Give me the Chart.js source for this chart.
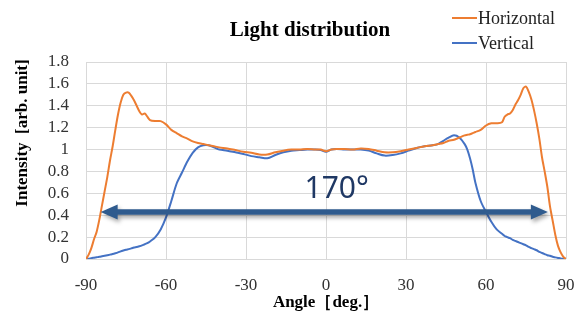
<!DOCTYPE html>
<html>
<head>
<meta charset="utf-8">
<script src="https://cdn.jsdelivr.net/npm/chart.js@4.4.1/dist/chart.umd.min.js"></script>
<style>
  html, body { margin: 0; padding: 0; background: #fff; }
  #wrap { width: 576px; height: 318px; }
</style>
</head>
<body>
<div id="wrap"><canvas id="lightChart"></canvas></div>
<script>
// angles in degrees
const angles = [-90,-89,-88,-87,-86,-85,-84,-83,-82,-81,-80,-79,-78,-77,-76,-75,-74,-73,-72,-71,-70,-69,-68,-67,-66,-64,-62,-60,-58,-56,-54,-52,-50,-48,-46,-44,-42,-40,-37,-34,-31,-28,-25,-22,-19,-16,-13,-10,-7,-4,-2,0,2,4,7,10,13,16,19,22,25,28,31,34,37,40,42,44,46,48,50,52,53,54,55,56,58,60,62,64,66,67,68,69,70,71,72,73,74,75,76,77,78,79,80,81,82,83,84,85,86,87,88,89,90];

const horizontal = [0,0.04,0.1,0.18,0.25,0.36,0.49,0.62,0.75,0.9,1.03,1.18,1.32,1.43,1.5,1.52,1.52,1.49,1.45,1.4,1.35,1.32,1.33,1.3,1.27,1.26,1.26,1.23,1.18,1.15,1.12,1.1,1.075,1.06,1.05,1.04,1.03,1.02,1.01,0.995,0.98,0.97,0.955,0.955,0.975,0.99,1.0,1.0,1.005,1.0,1.0,0.985,1.0,1.005,1.005,1.0,1.01,1.005,0.99,0.975,0.975,0.985,1.0,1.015,1.03,1.04,1.05,1.06,1.08,1.09,1.11,1.13,1.135,1.14,1.15,1.16,1.18,1.22,1.24,1.24,1.25,1.3,1.32,1.33,1.36,1.41,1.45,1.5,1.56,1.575,1.53,1.46,1.36,1.24,1.1,0.93,0.8,0.66,0.48,0.35,0.22,0.12,0.06,0.02,0];

const vertical = [0,0.003,0.008,0.012,0.016,0.02,0.025,0.03,0.035,0.04,0.045,0.052,0.06,0.07,0.078,0.085,0.09,0.097,0.105,0.11,0.117,0.125,0.135,0.145,0.16,0.2,0.27,0.38,0.53,0.69,0.79,0.89,0.97,1.02,1.04,1.04,1.02,1.0,0.99,0.975,0.96,0.94,0.93,0.92,0.95,0.975,0.99,0.995,1.0,1.0,0.995,0.98,1.0,1.005,1.0,1.0,1.0,0.99,0.965,0.945,0.95,0.965,0.99,1.015,1.03,1.04,1.05,1.08,1.11,1.13,1.11,1.05,1.0,0.92,0.82,0.7,0.53,0.43,0.34,0.27,0.23,0.21,0.2,0.19,0.175,0.165,0.155,0.145,0.135,0.125,0.11,0.1,0.09,0.08,0.065,0.055,0.045,0.035,0.03,0.02,0.015,0.01,0.005,0.002,0];

const xTicks = [-90, -60, -30, 0, 30, 60, 90];
const yTicks = [0, 0.2, 0.4, 0.6, 0.8, 1, 1.2, 1.4, 1.6, 1.8];

// annotation: beam angle arrow (data units)
const arrowSpan = { from: -84.5, to: 83.2, y: 0.43 };
const spanLabel = { text: '170°', x: 4, y: 0.64 };

const serif = '"Liberation Serif", "Times New Roman", serif';

function toPoints(ys) {
  return angles.map((a, i) => ({ x: a, y: ys[i] }));
}

const decorPlugin = {
  id: 'decor',
  afterDatasetsDraw(chart) {
    const ctx = chart.ctx;
    const xs = chart.scales.x, ys = chart.scales.y;
    const x1 = xs.getPixelForValue(arrowSpan.from);
    const x2 = xs.getPixelForValue(arrowSpan.to);
    const y = ys.getPixelForValue(arrowSpan.y);
    const head = 17, half = 7.5, shaft = 2.8;

    ctx.save();
    ctx.shadowColor = 'rgba(0,0,0,0.35)';
    ctx.shadowBlur = 4;
    ctx.shadowOffsetX = 2;
    ctx.shadowOffsetY = 3;
    ctx.fillStyle = '#2F5B8E';
    ctx.beginPath();
    ctx.moveTo(x1, y);
    ctx.lineTo(x1 + head, y - half);
    ctx.lineTo(x1 + head, y - shaft);
    ctx.lineTo(x2 - head, y - shaft);
    ctx.lineTo(x2 - head, y - half);
    ctx.lineTo(x2, y);
    ctx.lineTo(x2 - head, y + half);
    ctx.lineTo(x2 - head, y + shaft);
    ctx.lineTo(x1 + head, y + shaft);
    ctx.lineTo(x1 + head, y + half);
    ctx.closePath();
    ctx.fill();
    ctx.restore();

    ctx.save();
    ctx.fillStyle = '#1F3864';
    ctx.font = '30px "Noto Sans", "Liberation Sans", sans-serif';
    ctx.textAlign = 'center';
    ctx.textBaseline = 'middle';
    ctx.fillText(spanLabel.text, xs.getPixelForValue(spanLabel.x), ys.getPixelForValue(spanLabel.y));
    ctx.restore();
  },
  afterDraw(chart) {
    const ctx = chart.ctx;
    ctx.save();
    // title
    ctx.fillStyle = '#000';
    ctx.font = 'bold 21px ' + serif;
    ctx.textAlign = 'center';
    ctx.textBaseline = 'middle';
    ctx.fillText('Light distribution', 310, 31);

    // legend
    ctx.font = '18px ' + serif;
    ctx.textAlign = 'left';
    chart.data.datasets.forEach((ds, i) => {
      const ly = 18 + i * 25;
      ctx.strokeStyle = ds.borderColor;
      ctx.lineWidth = 2;
      ctx.beginPath();
      ctx.moveTo(452, ly);
      ctx.lineTo(477, ly);
      ctx.stroke();
      ctx.fillStyle = '#222';
      ctx.fillText(ds.label, 478, ly + 1);
    });

    // y axis title
    ctx.translate(23, 133);
    ctx.rotate(-Math.PI / 2);
    ctx.fillStyle = '#000';
    ctx.font = 'bold 17px ' + serif;
    ctx.textAlign = 'center';
    ctx.fillText('Intensity  [arb. unit]', 0, 0);
    ctx.restore();
  }
};

new Chart(document.getElementById('lightChart'), {
  type: 'line',
  data: {
    datasets: [
      {
        label: 'Horizontal',
        data: toPoints(horizontal),
        borderColor: '#ED7D31',
        borderWidth: 2,
        pointRadius: 0,
        tension: 0.3,
        fill: false
      },
      {
        label: 'Vertical',
        data: toPoints(vertical),
        borderColor: '#4472C4',
        borderWidth: 2,
        pointRadius: 0,
        tension: 0.3,
        fill: false
      }
    ]
  },
  options: {
    responsive: true,
    maintainAspectRatio: false,
    animation: false,
    layout: {
      padding: { top: 62, right: 10, left: 0, bottom: 0 }
    },
    plugins: {
      legend: { display: false },
      title: { display: false },
      tooltip: { enabled: false }
    },
    scales: {
      x: {
        type: 'linear',
        min: -90,
        max: 90,
        afterFit(scale) {
          scale.height = 59;
          scale.paddingLeft = 0;
          scale.paddingRight = 0;
        },
        afterBuildTicks(scale) { scale.ticks = xTicks.map(v => ({ value: v })); },
        grid: { color: '#d9d9d9', drawTicks: false },
        border: { display: false },
        ticks: {
          padding: 16,
          autoSkip: false,
          maxRotation: 0,
          color: '#333',
          font: { family: serif, size: 17 }
        },
        title: {
          display: true,
          text: 'Angle［deg.］',
          color: '#000',
          font: { family: serif, size: 17, weight: 'bold' },
          padding: { top: 0, bottom: 5 }
        }
      },
      y: {
        min: 0,
        max: 1.8,
        afterFit(scale) {
          scale.width = 86;
          scale.paddingTop = 0;
          scale.paddingBottom = 0;
        },
        afterBuildTicks(scale) { scale.ticks = yTicks.map(v => ({ value: v })); },
        grid: { color: '#d9d9d9', drawTicks: false },
        border: { display: false },
        ticks: {
          padding: 17,
          autoSkip: false,
          color: '#333',
          font: { family: serif, size: 17 },
          callback: v => String(Number(v.toFixed(1)))
        }
      }
    }
  },
  plugins: [decorPlugin]
});
</script>
</body>
</html>
